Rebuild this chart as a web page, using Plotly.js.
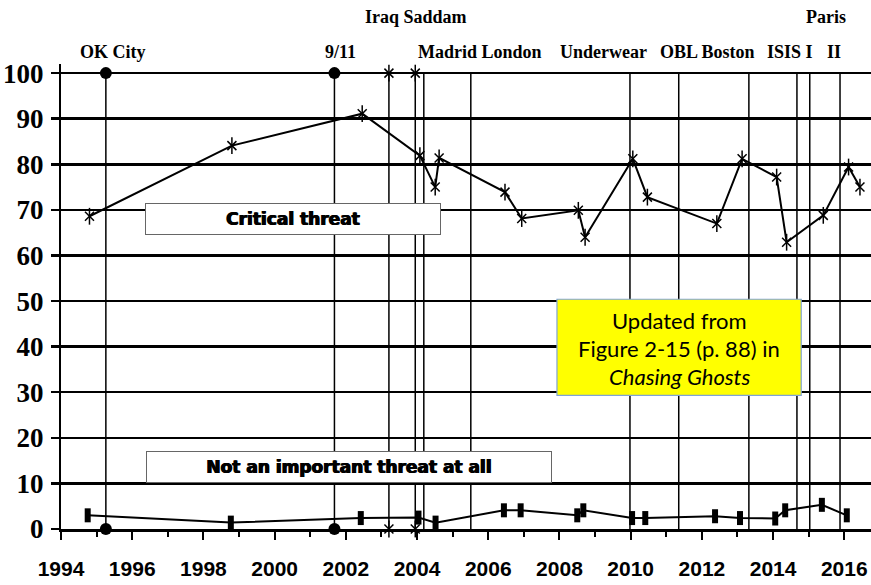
<!DOCTYPE html>
<html>
<head>
<meta charset="utf-8">
<script src="https://cdn.plot.ly/plotly-3.0.1.min.js"></script>
<style>
  html, body { margin: 0; padding: 0; background: #fff; }
  #chart { width: 871px; height: 585px; }
</style>
</head>
<body>
<div id="chart"></div>
<script>
// critical threat series (asterisks)
var critYears = [1994.80, 1998.80, 2002.46, 2004.08, 2004.51, 2004.62, 2006.47, 2006.94, 2008.53, 2008.72,
                 2010.06, 2010.47, 2012.42, 2013.13, 2014.10, 2014.38, 2015.41, 2016.12, 2016.44];
var critVals = [68.6, 84.1, 91.1, 81.9, 75.0, 81.4, 73.9, 68.1, 69.9, 64.0,
                81.2, 72.8, 67.0, 81.2, 77.2, 62.9, 68.8, 79.4, 75.0];

// not an important threat at all (squares)
var notYears = [1994.75, 1998.77, 2002.42, 2004.04, 2004.52, 2006.44, 2006.91, 2008.50, 2008.67,
                2010.04, 2010.41, 2012.37, 2013.07, 2014.06, 2014.34, 2015.37, 2016.07];
var notVals = [3.0, 1.4, 2.4, 2.5, 1.4, 4.1, 4.1, 3.0, 4.1,
               2.4, 2.4, 2.8, 2.4, 2.3, 4.1, 5.3, 3.0];

// events: vertical lines
var eventNames = ['OK City', '9/11', 'Iraq', 'Saddam', 'Madrid', 'London', 'Underwear',
                  'OBL', 'Boston', 'ISIS', 'Paris I', 'Paris II'];
var eventYears = [1995.26, 2001.68, 2003.21, 2003.95, 2004.19, 2005.51, 2009.98,
                  2011.35, 2013.32, 2014.67, 2015.03, 2015.88];
var circleEvents = [1995.26, 2001.68];   // OK City, 9/11
var starEvents = [2003.21, 2003.95];     // Iraq, Saddam
var eventEnds = [0, 100];

var xTicks = [1994, 1996, 1998, 2000, 2002, 2004, 2006, 2008, 2010, 2012, 2014, 2016];
var yTicks = [0, 10, 20, 30, 40, 50, 60, 70, 80, 90, 100];

var noteLines = ['Updated from', 'Figure 2-15 (p. 88) in', '<i>Chasing Ghosts</i>'];

// build segments for the event lines
var evX = [], evY = [];
eventYears.forEach(function (e) {
    evX.push(e, e, null);
    evY.push(eventEnds[0], eventEnds[1], null);
});

function pairs(list) {
    var px = [], py = [];
    list.forEach(function (e) {
        eventEnds.forEach(function (v) { px.push(e); py.push(v); });
    });
    return { x: px, y: py };
}
var circ = pairs(circleEvents);
var star = pairs(starEvents);

var data = [{
    x: evX, y: evY, mode: 'lines', hoverinfo: 'skip',
    line: { color: '#000', width: 1.5 }
}, {
    x: circ.x, y: circ.y, mode: 'markers', cliponaxis: false,
    marker: { symbol: 'circle', size: 12, color: '#000' }
}, {
    x: star.x, y: star.y, mode: 'markers', cliponaxis: false,
    marker: { symbol: 'x-thin-open', size: 9, color: '#000', line: { width: 1.5, color: '#000' } }
}, {
    x: star.x, y: star.y, mode: 'markers', cliponaxis: false, hoverinfo: 'skip',
    marker: { symbol: 'line-ns-open', size: 12, color: '#000', line: { width: 1.5, color: '#000' } }
}, {
    name: 'Critical threat',
    x: critYears, y: critVals, mode: 'lines+markers', cliponaxis: false,
    line: { color: '#000', width: 2 },
    marker: { symbol: 'x-thin-open', size: 9, color: '#000', line: { width: 1.5, color: '#000' } }
}, {
    x: critYears, y: critVals, mode: 'markers', cliponaxis: false, hoverinfo: 'skip',
    marker: { symbol: 'line-ns-open', size: 12, color: '#000', line: { width: 1.5, color: '#000' } }
}, {
    name: 'Not an important threat at all',
    x: notYears, y: notVals, mode: 'lines+markers', cliponaxis: false,
    line: { color: '#000', width: 2 },
    marker: { symbol: 'line-ns-open', size: 10, color: '#000', line: { width: 6, color: '#000' } }
}];

var labelFont = { family: 'Liberation Serif, Times New Roman, serif', size: 18, color: '#000', weight: 'bold' };
var boxFont = { family: 'DejaVu Sans, sans-serif', size: 17, color: '#000', weight: 'bold',
                shadow: '0.6px 0 0 #000, -0.6px 0 0 #000' };
var noteFont = { family: 'Lato, Open Sans, sans-serif', size: 22, color: '#000' };

function topLabel(text, x, row) {
    return {
        text: text, x: x, xref: 'x', y: row === 1 ? 1.100 : 1.025, yref: 'paper',
        showarrow: false, xanchor: 'center', yanchor: 'middle', font: labelFont
    };
}

var noteY = [45.8, 39.6, 33.5];
var noteAnn = noteLines.map(function (t, i) {
    return {
        text: t, x: 2011.36, y: noteY[i], xref: 'x', yref: 'y',
        showarrow: false, xanchor: 'center', yanchor: 'middle', font: noteFont
    };
});

var layout = {
    width: 871,
    height: 585,
    autosize: false,
    showlegend: false,
    paper_bgcolor: '#fff',
    plot_bgcolor: '#fff',
    margin: { l: 61, r: 0, t: 64, b: 56, pad: 0 },
    xaxis: {
        range: [1994, 2016.75],
        tickvals: xTicks,
        ticktext: xTicks.map(function (t) { return '<b>' + t + '</b>'; }),
        showgrid: false,
        zeroline: false,
        showline: true,
        linecolor: '#000',
        linewidth: 3,
        ticks: 'outside',
        ticklen: 8,
        tickwidth: 2,
        tickcolor: '#000',
        ticklabelstandoff: 11,
        minor: { dtick: 1, tick0: 1994, ticks: 'outside', ticklen: 5, tickwidth: 2, tickcolor: '#000', showgrid: false },
        tickfont: { family: 'Liberation Sans Narrow, Arial Narrow, Liberation Sans, sans-serif', size: 21, color: '#000' }
    },
    yaxis: {
        range: [0, 102],
        tickvals: yTicks,
        ticktext: yTicks.map(function (t) { return '<b>' + t + '</b>'; }),
        showgrid: true,
        gridcolor: '#000',
        gridwidth: 2.5,
        zeroline: false,
        showline: true,
        linecolor: '#000',
        linewidth: 2,
        ticks: 'outside',
        ticklen: 8,
        tickwidth: 2.5,
        tickcolor: '#000',
        ticklabelstandoff: 2,
        tickfont: { family: 'Liberation Serif, Times New Roman, serif', size: 27, color: '#000' }
    },
    shapes: [{
        type: 'rect', xref: 'x', yref: 'y', layer: 'above',
        x0: 2007.93, x1: 2014.79, y0: 29.3, y1: 50.4,
        fillcolor: '#ffff00', line: { color: '#7fa3d6', width: 1.2 }
    }],
    annotations: [
        topLabel('OK City', 1995.46, 2),
        topLabel('9/11', 2001.84, 2),
        topLabel('Madrid London', 2005.77, 2),
        topLabel('Underwear', 2009.25, 2),
        topLabel('OBL Boston', 2012.15, 2),
        topLabel('ISIS I', 2014.48, 2),
        topLabel('II', 2015.72, 2),
        topLabel('Iraq Saddam', 2003.97, 1),
        topLabel('Paris', 2015.49, 1),
        {
            text: 'Critical threat', x: 2000.52, y: 67.9, xref: 'x', yref: 'y',
            showarrow: false, xanchor: 'center', yanchor: 'middle',
            width: 294, height: 30, bgcolor: '#fff', bordercolor: '#666', borderwidth: 1, borderpad: 0,
            font: boxFont
        },
        {
            text: 'Not an important threat at all', x: 2002.09, y: 13.5, xref: 'x', yref: 'y',
            showarrow: false, xanchor: 'center', yanchor: 'middle',
            width: 404, height: 30, bgcolor: '#fff', bordercolor: '#666', borderwidth: 1, borderpad: 0,
            font: boxFont
        }
    ].concat(noteAnn)
};

Plotly.newPlot('chart', data, layout, { staticPlot: true, displayModeBar: false });
</script>
</body>
</html>
